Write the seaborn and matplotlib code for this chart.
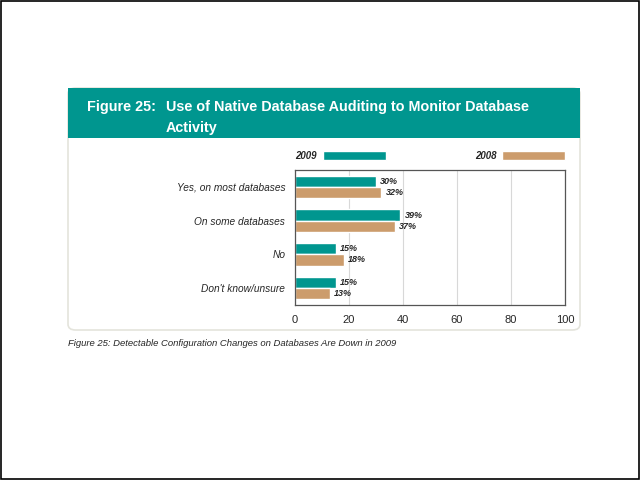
import numpy as np
import pandas as pd
import seaborn as sns
import matplotlib.pyplot as plt
from matplotlib.patches import Rectangle, FancyBboxPatch

# Dados
categorias = ["Yes, on most databases", "On some databases", "No", "Don't know/unsure"]
anos = ["2009", "2008"]
valores_2009 = [30, 39, 15, 15]
valores_2008 = [32, 37, 18, 13]
cores = {"2009": "#00968f", "2008": "#cc9c6c"}

dados = pd.DataFrame({
    "categoria": categorias * 2,
    "ano": ["2009"] * 4 + ["2008"] * 4,
    "valor": valores_2009 + valores_2008,
})

sns.set_style("white")
plt.rcParams["font.family"] = ["Liberation Sans", "DejaVu Sans"]

fig = plt.figure(figsize=(6.4, 4.8), dpi=100)

# Moldura externa e painel
fig.patches.append(Rectangle((0.002, 0.002), 0.996, 0.996, transform=fig.transFigure,
                             fill=False, edgecolor="black", linewidth=1.2, zorder=0))
fig.patches.append(FancyBboxPatch((68 / 640, 1 - 330 / 480), 512 / 640, 242 / 480,
                                  boxstyle="round,pad=0,rounding_size=0.012",
                                  transform=fig.transFigure, facecolor="white",
                                  edgecolor="#e4e4dc", linewidth=1.2, zorder=0))
fig.patches.append(Rectangle((68 / 640, 1 - 138 / 480), 512 / 640, 50 / 480,
                             transform=fig.transFigure, facecolor="#00968f",
                             edgecolor="none", zorder=0))
titulo = dict(color="white", fontsize=10.4, fontweight="bold", va="center", ha="left")
fig.text(87 / 640, 1 - 107 / 480, "Figure 25:", **titulo)
fig.text(166 / 640, 1 - 107 / 480, "Use of Native Database Auditing to Monitor Database",
         **titulo)
fig.text(166 / 640, 1 - 128 / 480, "Activity", **titulo)

ax = fig.add_axes([295 / 640, 1 - 305 / 480, 270 / 640, 135 / 480])
ax.set_zorder(3)
ax.patch.set_alpha(0)
sns.barplot(data=dados, y="categoria", x="valor", hue="ano", hue_order=anos,
            palette=cores, orient="h", width=0.66, saturation=1, legend=False, ax=ax)

for container in ax.containers:
    ax.bar_label(container, labels=[f"{v:.0f}%" for v in container.datavalues],
                 padding=3, fontsize=6.5, fontweight="bold", fontstyle="italic")

ax.set_xlim(0, 100)
ax.set_xticks([0, 20, 40, 60, 80, 100])
ax.xaxis.grid(True, color="#d8d8d8", linewidth=0.8)
ax.set_axisbelow(True)
ax.set_xlabel("")
ax.set_ylabel("")
ax.tick_params(axis="x", labelsize=8, length=0, pad=7)
ax.tick_params(axis="y", labelsize=7.3, length=0, pad=7)
for lab in ax.get_yticklabels():
    lab.set_fontstyle("italic")
for s in ax.spines.values():
    s.set_color("#555555")
    s.set_linewidth(0.9)

# Legenda manual acima do gráfico
fig.text(317 / 640, 1 - 156 / 480, "2009", fontsize=7, fontweight="bold",
         fontstyle="italic", ha="right", va="center")
fig.patches.append(Rectangle((323 / 640, 1 - 160 / 480), 63 / 640, 9 / 480,
                             transform=fig.transFigure, facecolor=cores["2009"]))
fig.text(497 / 640, 1 - 156 / 480, "2008", fontsize=7, fontweight="bold",
         fontstyle="italic", ha="right", va="center")
fig.patches.append(Rectangle((502 / 640, 1 - 160 / 480), 63 / 640, 9 / 480,
                             transform=fig.transFigure, facecolor=cores["2008"]))

fig.text(68 / 640, 1 - 344 / 480,
         "Figure 25: Detectable Configuration Changes on Databases Are Down in 2009",
         fontsize=6.8, fontstyle="italic", ha="left", va="center")

fig.savefig("out.png", dpi=100)
